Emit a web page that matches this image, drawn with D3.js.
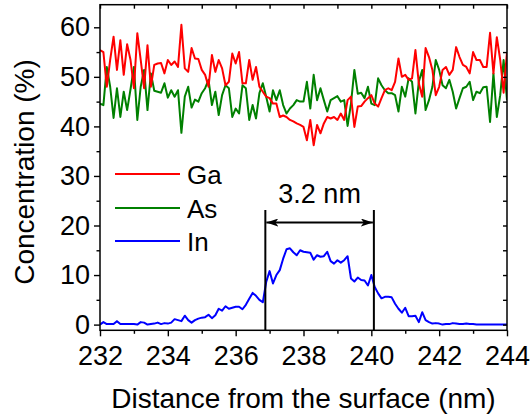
<!DOCTYPE html>
<html>
<head>
<meta charset="utf-8">
<script src="https://cdn.jsdelivr.net/npm/d3@7"></script>
<style>
  html, body { margin: 0; padding: 0; background: #fff; }
  svg { display: block; }
  text { font-family: "Liberation Sans", Arial, Helvetica, sans-serif; fill: #000; }
</style>
</head>
<body>
<svg id="chart" width="532" height="417"></svg>
<script>
// Depth profile: distance from the surface (nm), sampled every 0.1 nm
const xStart = 232.0;
const xStep = 0.1;

// Ga concentration (%)
const gaValues = [
  55.4, 55.0, 48.0, 53.4, 58.1, 51.4, 57.4, 50.4, 56.6, 53.4,
  47.7, 58.8, 53.4, 47.7, 56.4, 48.0, 52.4, 52.7, 52.8, 50.7,
  53.4, 52.4, 53.1, 52.0, 60.5, 51.7, 51.0, 55.8, 53.7, 53.6,
  51.4, 50.4, 48.0, 54.4, 51.0, 53.4, 51.7, 48.3, 49.0, 54.7,
  52.7,
  55.0, 48.7, 48.7, 53.4, 49.4, 52.0, 48.0, 47.0, 46.0, 45.7,
  44.6, 44.6, 41.9, 42.2, 41.9, 41.3, 41.0, 40.6, 40.3, 39.9,
  37.2, 41.3, 36.2, 40.3, 38.6, 40.6, 41.9, 41.6, 41.9, 41.3,
  42.6, 41.3, 45.3, 46.0, 39.9, 44.0, 44.1, 45.0, 45.7, 46.3,
  44.6,
  44.0, 45.7, 47.3, 47.7, 47.3, 49.0, 53.7, 50.0, 50.4, 49.4,
  49.7, 55.4, 48.7, 46.0, 55.8, 54.0, 51.4, 46.3, 48.0, 51.4,
  52.0, 50.4, 51.4, 56.0, 54.0, 52.4, 52.0, 50.7, 55.0, 53.4,
  53.4, 52.0, 52.0, 58.9, 50.7, 58.0, 53.4, 46.8, 55.0
];

// As concentration (%)
const asValues = [
  44.6, 44.3, 52.0, 48.0, 41.7, 47.7, 41.9, 47.0, 43.3, 47.5,
  52.0, 41.3, 48.0, 51.4, 43.3, 50.7, 47.2, 47.0, 46.8, 48.7,
  45.8, 47.3, 46.0, 47.3, 38.7, 46.0, 48.0, 43.8, 45.4, 45.0,
  46.7, 47.7, 49.4, 44.3, 47.0, 42.3, 46.3, 48.3, 47.7, 41.9,
  43.6,
  42.6, 48.3, 47.7, 41.3, 44.3, 41.6, 46.7, 48.7, 46.0, 43.0,
  47.3, 45.3, 47.3, 44.3, 42.6, 43.6, 44.3, 45.3, 45.0, 45.0,
  49.0, 43.6, 50.4, 45.3, 47.7, 45.3, 43.0, 45.3, 45.7, 46.1,
  45.0, 45.3, 40.1, 44.6, 51.4, 46.6, 46.8, 45.7, 48.0, 44.6,
  44.3,
  49.7, 48.3, 47.3, 46.7, 46.7, 46.3, 43.0, 48.0, 46.0, 49.7,
  49.0, 42.6, 49.0, 51.4, 43.3, 45.3, 48.0, 53.4, 51.4, 48.3,
  47.7, 49.4, 47.0, 43.6, 45.7, 47.7, 48.0, 49.0, 45.3, 47.0,
  46.7, 47.9, 48.0, 40.9, 50.7, 41.9, 46.3, 53.4, 45.3
];

// In concentration (%)
const inValues = [
  0.0, 0.5, 0.1, 0.1, 0.1, 0.7, 0.1, 0.1, 0.1, 0.1,
  0.1, 0.0, 0.5, 0.4, 0.0, 0.1, 0.2, 0.4, 0.1, 0.3,
  0.2, 0.4, 1.1, 0.9, 0.7, 1.8, 0.9, 0.4, 0.9, 1.2,
  1.4, 1.5, 2.0, 1.3, 1.9, 3.2, 2.8, 3.7, 3.2, 3.4,
  3.6, 3.6, 3.1, 4.0, 5.2, 6.4, 5.8, 5.0, 4.5, 8.6,
  10.8, 8.3, 10.0, 11.0, 13.3, 15.2, 15.4, 14.6, 14.0, 15.0,
  14.7, 14.6, 14.5, 13.1, 14.0, 13.7, 13.8, 14.7, 12.8, 12.3,
  13.0, 12.5, 13.0, 13.8, 9.3, 8.7, 9.5, 9.0, 8.9, 7.9,
  10.0, 7.6, 6.3, 5.3, 5.6, 5.6, 5.5, 4.2, 3.2, 2.4,
  3.4, 1.7, 1.7, 1.8, 0.5, 2.5, 0.9, 0.5, 0.2, 0.3,
  0.2, 0.0, 0.1, 0.1, 0.3, 0.2, 0.1, 0.1, 0.2, 0.1,
  0.1, 0.0, 0.0, 0.0, 0.0, 0.0, 0.0, 0.0, 0.0, 0.0,
  0.0
];

const seriesNames = ["Ga", "As", "In"];
const seriesColors = ["#ff0000", "#008000", "#0000ff"];

// Axis ticks
const xMajorTicks = [232, 234, 236, 238, 240, 242, 244];
const xMinorTicks = [233, 235, 237, 239, 241, 243];
const yMajorTicks = [0, 10, 20, 30, 40, 50, 60];
const yMinorTicks = [5, 15, 25, 35, 45, 55];

// Width bracket for the In-rich layer
const layerStart = 236.875;
const layerWidth = 3.2;
const layerLabel = "3.2 nm";

const xTitle = "Distance from the surface (nm)";
const yTitle = "Concentration (%)";

// ---- layout ----
const svg = d3.select("#chart");
const plot = { left: 100, right: 507, top: 4.7, bottom: 330.3 };

const x = d3.scaleLinear().domain([232, 244]).range([plot.left, plot.right]);
const y = d3.scaleLinear().domain([-1.15, 64.56]).range([plot.bottom, plot.top]);

const series = [gaValues, asValues, inValues].map((vals, i) => ({
  name: seriesNames[i],
  color: seriesColors[i],
  points: vals.map((v, j) => ({ x: xStart + j * xStep, y: v }))
}));

// data lines (clipped to the frame)
svg.append("clipPath").attr("id", "plotClip")
  .append("rect")
  .attr("x", plot.left).attr("y", plot.top)
  .attr("width", plot.right - plot.left).attr("height", plot.bottom - plot.top);

const line = d3.line().x(d => x(d.x)).y(d => y(d.y));
const lines = svg.append("g").attr("clip-path", "url(#plotClip)");
// draw In first, then As, then Ga on top
[2, 1, 0].forEach(i => {
  lines.append("path")
    .datum(series[i].points)
    .attr("fill", "none")
    .attr("stroke", series[i].color)
    .attr("stroke-width", 2)
    .attr("stroke-linejoin", "round")
    .attr("d", line);
});

// ---- axes ----
const fontSize = 27;
function styleAxis(g) {
  g.select(".domain").remove();
  g.selectAll(".tick line").attr("stroke", "#000").attr("stroke-width", 1.4);
}

// bottom: outward ticks with labels
svg.append("g").attr("transform", `translate(0,${plot.bottom})`)
  .call(d3.axisBottom(x).tickValues(xMajorTicks).tickSize(6).tickPadding(10).tickFormat(d3.format("d")))
  .call(styleAxis)
  .call(g => g.selectAll("text").attr("font-size", fontSize).attr("font-family", "Liberation Sans, Arial, sans-serif").attr("fill", "#000"));
svg.append("g").attr("transform", `translate(0,${plot.bottom})`)
  .call(d3.axisBottom(x).tickValues(xMinorTicks).tickSize(3.5).tickFormat(""))
  .call(styleAxis);

// left: outward ticks with labels
svg.append("g").attr("transform", `translate(${plot.left},0)`)
  .call(d3.axisLeft(y).tickValues(yMajorTicks).tickSize(6).tickPadding(4).tickFormat(d3.format("d")))
  .call(styleAxis)
  .call(g => g.selectAll("text").attr("font-size", fontSize).attr("font-family", "Liberation Sans, Arial, sans-serif").attr("fill", "#000"));
svg.append("g").attr("transform", `translate(${plot.left},0)`)
  .call(d3.axisLeft(y).tickValues(yMinorTicks).tickSize(3.5).tickFormat(""))
  .call(styleAxis);

// top and right: inward mirror ticks
svg.append("g").attr("transform", `translate(0,${plot.top})`)
  .call(d3.axisBottom(x).tickValues(xMajorTicks.concat(xMinorTicks)).tickSize(4).tickFormat(""))
  .call(styleAxis);
svg.append("g").attr("transform", `translate(${plot.right},0)`)
  .call(d3.axisLeft(y).tickValues(yMajorTicks.concat(yMinorTicks)).tickSize(4).tickFormat(""))
  .call(styleAxis);

// frame
svg.append("rect")
  .attr("x", plot.left).attr("y", plot.top)
  .attr("width", plot.right - plot.left).attr("height", plot.bottom - plot.top)
  .attr("fill", "none").attr("stroke", "#000").attr("stroke-width", 1.5);

// axis titles
svg.append("text")
  .attr("x", (plot.left + plot.right) / 2).attr("y", 408)
  .attr("text-anchor", "middle").attr("font-size", 28)
  .text(xTitle);
svg.append("text")
  .attr("transform", "translate(34,172) rotate(-90)")
  .attr("text-anchor", "middle").attr("font-size", 28)
  .text(yTitle);

// ---- legend ----
const legendRows = [174, 208, 241];
const legend = svg.append("g");
series.forEach((s, i) => {
  legend.append("line")
    .attr("x1", 115).attr("x2", 180)
    .attr("y1", legendRows[i]).attr("y2", legendRows[i])
    .attr("stroke", s.color).attr("stroke-width", 2);
  legend.append("text")
    .attr("x", 187).attr("y", legendRows[i] + 9.5)
    .attr("font-size", 26)
    .text(s.name);
});

// ---- width bracket ----
const defs = svg.append("defs");
defs.append("marker")
  .attr("id", "arrowHead")
  .attr("viewBox", "0 0 12 8")
  .attr("refX", 12).attr("refY", 4)
  .attr("markerWidth", 12).attr("markerHeight", 8)
  .attr("markerUnits", "userSpaceOnUse")
  .attr("orient", "auto-start-reverse")
  .append("path").attr("d", "M0,0 L12,4 L0,8 L3,4 Z").attr("fill", "#000");

const bx0 = x(layerStart);
const bx1 = x(layerStart + layerWidth);
const bracket = svg.append("g");
[bx0, bx1].forEach(bx => {
  bracket.append("line")
    .attr("x1", bx).attr("x2", bx)
    .attr("y1", 210).attr("y2", plot.bottom)
    .attr("stroke", "#000").attr("stroke-width", 2);
});
bracket.append("line")
  .attr("x1", bx0 + 1).attr("x2", bx1 - 1)
  .attr("y1", 222.5).attr("y2", 222.5)
  .attr("stroke", "#000").attr("stroke-width", 2)
  .attr("marker-start", "url(#arrowHead)")
  .attr("marker-end", "url(#arrowHead)");
bracket.append("text")
  .attr("x", (bx0 + bx1) / 2).attr("y", 203)
  .attr("text-anchor", "middle").attr("font-size", 27)
  .text(layerLabel);
</script>
</body>
</html>
